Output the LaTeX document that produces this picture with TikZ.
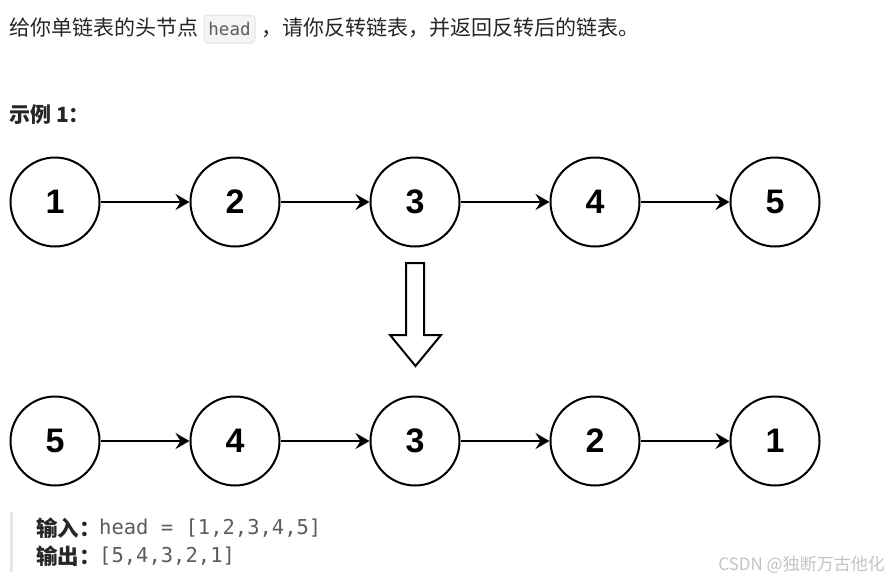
\documentclass[tikz,border=0pt]{standalone}
\usepackage{fontspec}
\setmainfont{Noto Sans CJK SC}
\setmonofont{DejaVu Sans Mono}
\newfontfamily\zahlfont{Liberation Sans}
\usetikzlibrary{arrows.meta}

\definecolor{textgrau}{HTML}{262626}
\definecolor{codegrau}{HTML}{5C5C5C}
\definecolor{codefeld}{HTML}{F5F5F5}
\definecolor{coderand}{HTML}{E3E3E3}
\definecolor{balken}{HTML}{E6E6E6}
\definecolor{wasserzeichen}{HTML}{C2C2C2}

\tikzset{
  knoten/.style={circle,draw=black,line width=2pt,minimum size=89pt,inner sep=0pt,
    font=\zahlfont\bfseries\fontsize{34}{34}\selectfont},
  zeiger/.style={line width=2pt,-{Stealth[length=14pt,width=16pt,inset=5pt]}},
  zeile/.style={anchor=west,inner sep=0pt,text=textgrau,font=\fontsize{21}{25}\selectfont}
}

\begin{document}
\begin{tikzpicture}[x=1pt,y=-1pt]
			\useasboundingbox (0,0) rectangle (888,581);

			% Aufgabentext
			\node[zeile] (satz1) at (9,28) {给你单链表的头节点};
			\node[draw=coderand,fill=codefeld,rounded corners=4pt,line width=1pt,minimum width=51pt,
				minimum height=28pt,inner sep=0pt,text=codegrau,font=\ttfamily\fontsize{17.5}{20}\selectfont]
				(kopf) at (229.5,29) {head};
			\node[zeile] (satz2) at (261,28) {，请你反转链表，并返回反转后的链表。};
			\node[zeile,font=\bfseries\fontsize{21}{25}\selectfont] (beispiel) at (9,115) {示例 1：};

			% Liste vorher
			\node[knoten] (o1) at (55,202) {1};
			\node[knoten] (o2) at (235,202) {2};
			\node[knoten] (o3) at (415,202) {3};
			\node[knoten] (o4) at (595,202) {4};
			\node[knoten] (o5) at (775,202) {5};
			\draw[zeiger] (o1) -- (o2);
			\draw[zeiger] (o2) -- (o3);
			\draw[zeiger] (o3) -- (o4);
			\draw[zeiger] (o4) -- (o5);

			% Blockpfeil
			\draw[line width=2pt,line join=miter] (406,263) -- (424,263) -- (424,335) -- (441,335)
				-- (415.5,366) -- (390,335) -- (406,335) -- cycle;

			% Liste nachher
			\node[knoten] (u1) at (55,441) {5};
			\node[knoten] (u2) at (235,441) {4};
			\node[knoten] (u3) at (415,441) {3};
			\node[knoten] (u4) at (595,441) {2};
			\node[knoten] (u5) at (775,441) {1};
			\draw[zeiger] (u1) -- (u2);
			\draw[zeiger] (u2) -- (u3);
			\draw[zeiger] (u3) -- (u4);
			\draw[zeiger] (u4) -- (u5);

			% Ein- und Ausgabe
			\fill[balken] (9.5,512) rectangle (12.5,572);
			\node[zeile,font=\bfseries\fontsize{21.5}{25}\selectfont] (ein) at (36,528) {输入：};
			\node[zeile,text=codegrau,font=\ttfamily\fontsize{20.5}{24}\selectfont] (einwert) at (99,528) {head = [1,2,3,4,5]};
			\node[zeile,font=\bfseries\fontsize{21.5}{25}\selectfont] (aus) at (36,556) {输出：};
			\node[zeile,text=codegrau,font=\ttfamily\fontsize{20.5}{24}\selectfont] (auswert) at (99,556) {[5,4,3,2,1]};

			% Wasserzeichen
			\node[anchor=east,inner sep=0pt,text=wasserzeichen,font=\fontsize{17}{20}\selectfont]
				(marke) at (885,565) {CSDN @独断万古他化};

		\end{tikzpicture}
\end{document}
